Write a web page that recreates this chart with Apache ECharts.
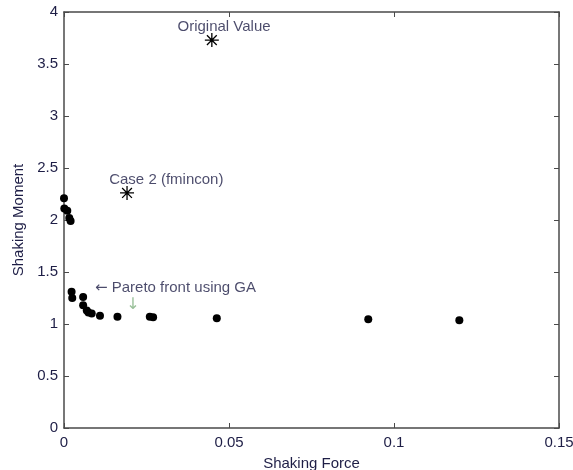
<!DOCTYPE html>
<html>
<head>
<meta charset="UTF-8">
<title>Shaking Force vs Shaking Moment</title>
<script src="https://cdn.jsdelivr.net/npm/echarts@6/dist/echarts.min.js"></script>
<style>
  html, body { margin: 0; padding: 0; background: #fff; }
  #chart { width: 573px; height: 470px; }
</style>
</head>
<body>
<div id="chart"></div>
<script>
// Pareto front points (GA)
var paretoForce = [0.0000, 0.0001, 0.0010, 0.0016, 0.0020, 0.0023, 0.0025, 0.0058, 0.0058, 0.0069, 0.0074, 0.0084, 0.0109, 0.0162, 0.0260, 0.0270, 0.0463, 0.0922, 0.1198];
var paretoMoment = [2.21, 2.11, 2.09, 2.02, 1.99, 1.31, 1.25, 1.26, 1.18, 1.13, 1.11, 1.10, 1.08, 1.07, 1.07, 1.065, 1.055, 1.045, 1.035];

// star points
var starNames = ['Original Value', 'Case 2 (fmincon)'];
var starForce = [0.0448, 0.0191];
var starMoment = [3.73, 2.26];

// text annotations
var noteText = ['Original Value', 'Case 2 (fmincon)', '{a|\u2190} Pareto front using GA'];
var noteX = [0.0485, 0.0310, 0.0094];
var noteY = [3.86, 2.385, 1.345];

var xTicks = [0, 0.05, 0.1, 0.15];
var yMax = 4;

var textColor = '#1e1e46';
var axisColor = '#4a4a4a';
var font = 'Liberation Sans, Arial, sans-serif';

var pts = paretoForce.map(function (f, i) { return [f, paretoMoment[i]]; });
var stars = starForce.map(function (f, i) { return { name: starNames[i], value: [f, starMoment[i]] }; });
var notes = noteText.map(function (t, i) {
  return {
    name: t,
    value: [noteX[i], noteY[i]],
    label: { align: i == 2 ? 'left' : 'center' }
  };
});

var asterisk = 'path://M5,0 L5,10 M0,5 L10,5 M1.5,1.5 L8.5,8.5 M1.5,8.5 L8.5,1.5';

var axisBase = {
  axisLine: { show: true, onZero: false, lineStyle: { color: axisColor, width: 1.5 } },
  axisTick: { show: true, inside: true, length: 5, lineStyle: { color: axisColor } },
  splitLine: { show: false }
};

var chart = echarts.init(document.getElementById('chart'));
chart.setOption({
  animation: false,
  backgroundColor: '#fff',
  grid: { left: 64, right: 14, top: 12, bottom: 42, containLabel: false, outerBoundsMode: 'none' },
  xAxis: [
    Object.assign({
      type: 'value', min: 0, max: xTicks[xTicks.length - 1], interval: 0.05,
      name: 'Shaking Force', nameLocation: 'middle', nameGap: 28,
      nameTextStyle: { color: textColor, fontFamily: font, fontSize: 15 },
      axisLabel: { color: textColor, fontFamily: font, fontSize: 15, margin: 7 }
    }, axisBase),
    Object.assign({
      type: 'value', min: 0, max: 0.15, interval: 0.05, position: 'top',
      axisLabel: { show: false }
    }, axisBase)
  ],
  yAxis: [
    Object.assign({
      type: 'value', min: 0, max: yMax, interval: 0.5,
      name: 'Shaking Moment', nameLocation: 'middle', nameGap: 36,
      nameTextStyle: { color: textColor, fontFamily: font, fontSize: 15 },
      axisLabel: { color: textColor, fontFamily: font, fontSize: 15, margin: 6 }
    }, axisBase),
    Object.assign({
      type: 'value', min: 0, max: yMax, interval: 0.5, position: 'right',
      axisLabel: { show: false }
    }, axisBase)
  ],
  series: [
    {
      type: 'scatter',
      data: pts,
      symbol: 'circle',
      symbolSize: 8,
      itemStyle: { color: '#000', opacity: 1 }
    },
    {
      type: 'scatter',
      data: stars,
      symbol: asterisk,
      symbolSize: 14,
      itemStyle: { color: 'none', borderColor: '#000', borderWidth: 1.3, opacity: 1 }
    },
    {
      type: 'scatter',
      data: notes,
      symbolSize: 0,
      silent: true,
      label: {
        show: true, position: 'inside', formatter: '{b}',
        color: textColor, fontFamily: font, fontSize: 15,
        rich: { a: { fontFamily: 'DejaVu Sans, sans-serif', fontSize: 15, color: textColor } }
      }
    },
    {
      type: 'scatter',
      data: [[0.0209, 1.18]],
      symbolSize: 0,
      silent: true,
      label: {
        show: true, position: 'inside', formatter: '\u2193',
        color: '#7fb07f', fontFamily: 'DejaVu Sans, sans-serif', fontSize: 16
      }
    }
  ]
});
</script>
</body>
</html>
